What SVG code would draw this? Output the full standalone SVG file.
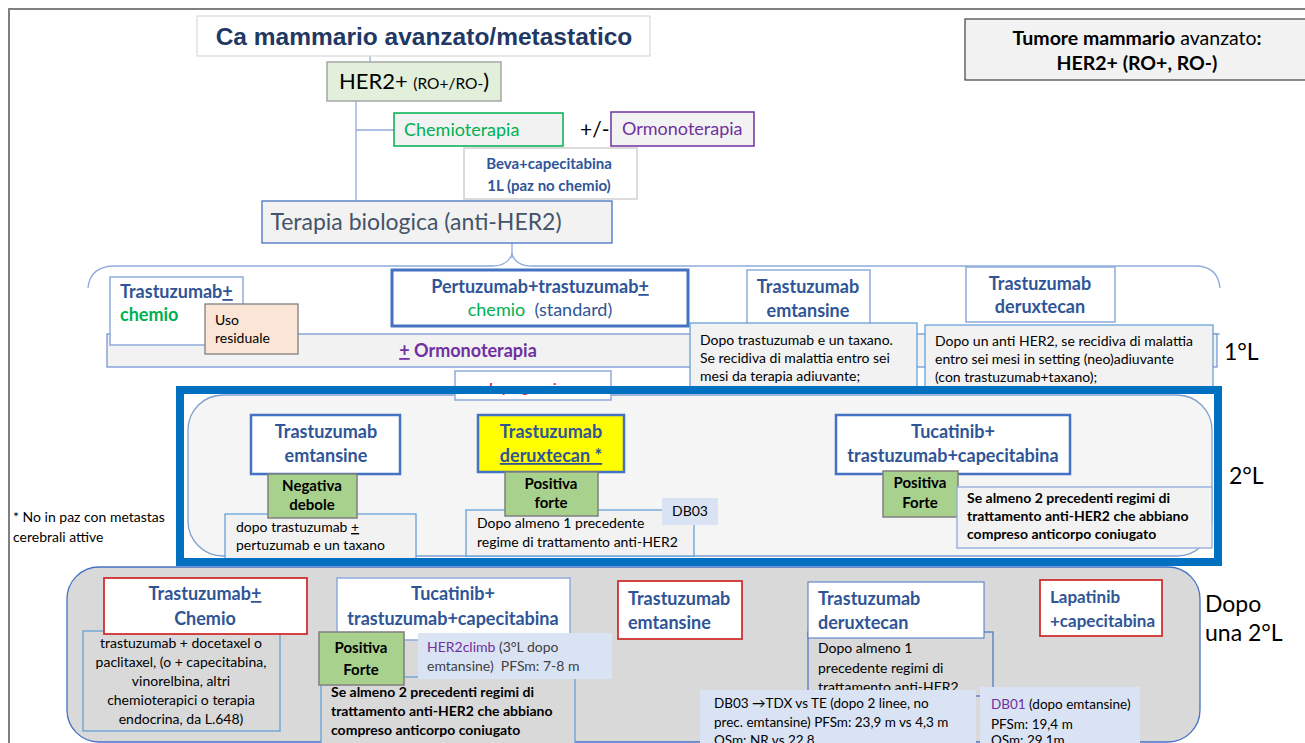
<svg xmlns="http://www.w3.org/2000/svg" width="1305" height="743" viewBox="0 0 1305 743">
<style>
text{font-family:Lato,"Liberation Sans",sans-serif}
.hb{font-weight:bold;fill:#2F5597;font-size:18px}
.t{font-size:14px;fill:#000}
.tb{font-size:14px;fill:#000;font-weight:bold}
.gb{font-size:15px;fill:#000;font-weight:bold}
.green{fill:#A9D18E;stroke:#7F7F7F;stroke-width:1.5}
.wb{fill:#fff;stroke:#4472C4;stroke-width:2.5}
.wl{fill:#fff;stroke:#8FAADC;stroke-width:1.5}
.wr{fill:#fff;stroke:#D03030;stroke-width:1.8}
.note{fill:#F2F2F2;stroke:#5B9BD5;stroke-width:1.2}
.lbl{fill:#DAE3F3}
.u{text-decoration:underline}
.lab{font-size:23px;fill:#000}
.conn{stroke:#8FAADC;stroke-width:1.3;fill:none}
.sm{font-size:13.5px;fill:#000}
</style>
<rect width="1305" height="743" fill="#fff"/>
<g id="frame">
<path d="M8 9H1305M9 9V743" stroke="#808080" stroke-width="2" fill="none"/>
</g>
<g id="connectors">
<path class="conn" d="M370 56V62M356 101V200M356 130H394M512 243V258"/>
<path class="conn" d="M88 288Q90 266 115 266H492Q508 266 512 254Q516 266 532 266H1195Q1218 266 1220 288"/>
<path class="conn" d="M1212 334H1220"/>
</g>
<g id="title"><rect x="197" y="16" width="453" height="40" fill="#fff" stroke="#D9D9D9" stroke-width="1.2"/>
<text x="424" y="45" text-anchor="middle" style="font-family:'Liberation Sans',Arial,sans-serif;font-weight:bold;font-size:24.5px;fill:#1F3864">Ca mammario avanzato/metastatico</text></g>
<g id="legend"><rect x="965" y="19" width="345" height="61" fill="#F2F2F2" stroke="#404040" stroke-width="1.2"/>
<text x="1137" y="45" text-anchor="middle" style="font-size:19.5px;fill:#000"><tspan font-weight="bold">Tumore mammario</tspan> avanzato<tspan font-weight="bold">:</tspan></text>
<text x="1137" y="70" text-anchor="middle" style="font-size:19.5px;fill:#000;font-weight:bold">HER2+ (RO+, RO-)</text></g>
<g id="her2"><rect x="327" y="62" width="174" height="39" fill="#E2EFDA" stroke="#A5A5A5" stroke-width="1.5"/>
<text x="414" y="89" text-anchor="middle" style="fill:#000"><tspan font-size="22">HER2+ </tspan><tspan font-size="15.5">(RO+/RO-</tspan><tspan font-size="22">)</tspan></text></g>
<g id="chemio"><rect x="394" y="113" width="169" height="33" fill="#F2F2F2" stroke="#00B050" stroke-width="1.5"/>
<text x="404" y="136" style="font-size:18px;fill:#00B050">Chemioterapia</text></g>
<text x="580" y="137" style="font-size:21px;fill:#000">+/-</text>
<g id="ormono"><rect x="611" y="112" width="143" height="34" fill="#F2F2F2" stroke="#7030A0" stroke-width="1.5"/>
<text x="622" y="135" style="font-size:18px;fill:#7030A0">Ormonoterapia</text></g>
<g id="beva"><rect x="464" y="148" width="173" height="51" fill="#fff" stroke="#D0D0D0" stroke-width="1.5"/>
<text x="549" y="169" text-anchor="middle" style="font-size:15px;font-weight:bold;fill:#2F5597">Beva+capecitabina</text>
<text x="549" y="191" text-anchor="middle" style="font-size:15px;font-weight:bold;fill:#2F5597">1L (paz no chemio)</text></g>
<g id="terapia"><rect x="262" y="201" width="350" height="42" fill="#F2F2F2" stroke="#4472C4" stroke-width="1.3"/>
<text x="416" y="230" text-anchor="middle" style="font-size:23px;fill:#44546A">Terapia biologica (anti-HER2)</text></g>
<!-- 1L -->
<g id="ormband"><rect x="107" y="334" width="1110" height="33" fill="#F2F2F2" stroke="#6E8FD0" stroke-width="1.2"/>
<text x="468" y="357" text-anchor="middle" style="font-size:18px;font-weight:bold;fill:#7030A0"><tspan class="u">+</tspan> Ormonoterapia</text></g>
<g id="trastchemio1"><rect x="110" y="277" width="133" height="68" class="wl"/>
<text x="120" y="298" class="hb">Trastuzumab<tspan class="u">+</tspan></text>
<text x="120" y="321" class="hb" style="fill:#00B050">chemio</text></g>
<g id="uso"><rect x="205" y="304" width="93" height="50" fill="#FBE5D6" stroke="#7F7F7F" stroke-width="1.3"/>
<text x="215" y="325" class="t">Uso</text><text x="215" y="343" class="t">residuale</text></g>
<g id="pertuzumab"><rect x="392" y="270" width="296" height="56" fill="#fff" stroke="#4472C4" stroke-width="3"/>
<text x="540" y="293" text-anchor="middle" class="hb">Pertuzumab+trastuzumab<tspan class="u">+</tspan></text>
<text x="540" y="316" text-anchor="middle" style="font-size:18px"><tspan fill="#00B050">chemio</tspan><tspan fill="#2F5597" xml:space="preserve">  (standard)</tspan></text></g>
<g id="tdm1-1L"><rect x="747" y="270" width="123" height="58" class="wl"/>
<text x="808" y="293" text-anchor="middle" class="hb">Trastuzumab</text>
<text x="808" y="317" text-anchor="middle" class="hb">emtansine</text></g>
<g id="tdxd-1L"><rect x="966" y="267" width="149" height="55" class="wl"/>
<text x="1040" y="290" text-anchor="middle" class="hb">Trastuzumab</text>
<text x="1040" y="313" text-anchor="middle" class="hb">deruxtecan</text></g>
<g id="note-tdm1-1L"><rect x="690" y="323" width="227" height="70" class="note"/>
<text x="700" y="345" class="t">Dopo trastuzumab e un taxano.</text>
<text x="700" y="363" class="t">Se recidiva di malattia entro sei</text>
<text x="700" y="381" class="t">mesi da terapia adiuvante;</text></g>
<g id="note-tdxd-1L"><rect x="925" y="325" width="288" height="68" class="note"/>
<text x="935" y="346" class="t">Dopo un anti HER2, se recidiva di malattia</text>
<text x="935" y="364" class="t">entro sei mesi in setting (neo)adiuvante</text>
<text x="935" y="382" class="t">(con trastuzumab+taxano);</text></g>
<text x="1224" y="360" class="lab">1°L</text>
<!-- 2L -->
<g id="line2"><rect x="188" y="395" width="1024" height="161" rx="35" fill="#F5F5F5" stroke="#7F9FCF" stroke-width="1.3"/></g>
<g id="progressione"><rect x="455" y="371" width="156" height="29" class="wl"/>
<text x="533" y="393" text-anchor="middle" style="font-size:14px;font-weight:bold;font-style:italic;fill:#E03030">In progressione</text></g>
<text x="13" y="522" class="t">* No in paz con metastas</text>
<text x="13" y="542" class="t">cerebrali attive</text>
<g id="tdm1-2L"><rect x="251" y="415" width="149" height="59" class="wb"/>
<text x="326" y="438" text-anchor="middle" class="hb">Trastuzumab</text>
<text x="326" y="462" text-anchor="middle" class="hb">emtansine</text>
<rect x="225" y="514" width="191" height="46" class="note"/>
<text x="236" y="532" class="t">dopo trastuzumab <tspan class="u">+</tspan></text>
<text x="236" y="550" class="t">pertuzumab e un taxano</text>
<rect x="268" y="474" width="89" height="44" class="green"/>
<text x="312" y="491" text-anchor="middle" class="gb">Negativa</text>
<text x="312" y="510" text-anchor="middle" class="gb">debole</text></g>
<g id="tdxd-2L"><rect x="478" y="415" width="146" height="57" fill="#FFFF00" stroke="#4472C4" stroke-width="2.5"/>
<text x="551" y="438" text-anchor="middle" class="hb">Trastuzumab</text>
<text x="551" y="462" text-anchor="middle" class="hb u">deruxtecan *</text>
<rect x="466" y="510" width="228" height="46" class="note"/>
<text x="477" y="528" class="t">Dopo almeno 1 precedente</text>
<text x="477" y="547" class="t">regime di trattamento anti-HER2</text>
<rect x="662" y="498" width="56" height="27" class="lbl"/>
<text x="690" y="516" text-anchor="middle" class="t">DB03</text>
<rect x="505" y="472" width="93" height="44" class="green"/>
<text x="551" y="489" text-anchor="middle" class="gb">Positiva</text>
<text x="551" y="508" text-anchor="middle" class="gb">forte</text></g>
<g id="tucatinib-2L"><rect x="836" y="415" width="234" height="59" class="wb"/>
<text x="953" y="438" text-anchor="middle" class="hb">Tucatinib+</text>
<text x="953" y="462" text-anchor="middle" class="hb">trastuzumab+capecitabina</text>
<rect x="883" y="471" width="75" height="46" class="green"/>
<text x="920" y="488" text-anchor="middle" class="gb">Positiva</text>
<text x="920" y="508" text-anchor="middle" class="gb">Forte</text>
<rect x="957" y="487" width="255" height="61" fill="#F2F2F2" stroke="#8FAADC" stroke-width="1.3"/>
<text x="967" y="503" class="tb">Se almeno 2 precedenti regimi di</text>
<text x="967" y="521" class="tb">trattamento anti-HER2 che abbiano</text>
<text x="967" y="539" class="tb">compreso anticorpo coniugato</text></g>
<text x="1229" y="484" class="lab">2°L</text>
<!-- after 2L -->
<g id="after2L"><rect x="67" y="567" width="1133" height="175" rx="32" fill="#D9D9D9" stroke="#4472C4" stroke-width="1.3"/></g>
<rect id="frame2L" x="180" y="390" width="1038" height="172" fill="none" stroke="#0070C0" stroke-width="8"/>
<g id="trastchemio-3L">
<rect x="83" y="631" width="197" height="100" fill="none" stroke="#5B9BD5" stroke-width="1.2"/>
<text x="181" y="648" text-anchor="middle" class="t">trastuzumab + docetaxel o</text>
<text x="181" y="667" text-anchor="middle" class="t">paclitaxel, (o + capecitabina,</text>
<text x="181" y="686" text-anchor="middle" class="t">vinorelbina, altri</text>
<text x="181" y="705" text-anchor="middle" class="t">chemioterapici o terapia</text>
<text x="181" y="724" text-anchor="middle" class="t">endocrina, da L.648)</text>
<rect x="104" y="578" width="203" height="56" class="wr"/>
<text x="205" y="600" text-anchor="middle" class="hb">Trastuzumab<tspan class="u">+</tspan></text>
<text x="205" y="625" text-anchor="middle" class="hb">Chemio</text></g>
<g id="tucatinib-3L">
<rect x="321" y="677" width="254" height="70" fill="#D9D9D9" stroke="#5B9BD5" stroke-width="1.2"/>
<text x="331" y="697" class="tb">Se almeno 2 precedenti regimi di</text>
<text x="331" y="716" class="tb">trattamento anti-HER2 che abbiano</text>
<text x="331" y="735" class="tb">compreso anticorpo coniugato</text>
<rect x="337" y="578" width="233" height="62" class="wl"/>
<text x="453" y="600" text-anchor="middle" class="hb">Tucatinib+</text>
<text x="453" y="625" text-anchor="middle" class="hb">trastuzumab+capecitabina</text>
<rect x="418" y="633" width="194" height="46" class="lbl"/>
<text x="427" y="652" class="t" style="fill:#404040"><tspan fill="#7030A0">HER2climb</tspan> (3°L dopo</text>
<text x="427" y="671" class="t" style="fill:#404040" xml:space="preserve">emtansine)  PFSm: 7-8 m</text>
<rect x="319" y="632" width="85" height="53" class="green"/>
<text x="361" y="653" text-anchor="middle" class="gb">Positiva</text>
<text x="361" y="675" text-anchor="middle" class="gb">Forte</text></g>
<g id="tdm1-3L"><rect x="618" y="581" width="124" height="58" class="wr"/>
<text x="628" y="605" class="hb">Trastuzumab</text>
<text x="628" y="629" class="hb">emtansine</text></g>
<g id="tdxd-3L">
<rect x="808" y="632" width="185" height="64" fill="none" stroke="#4472C4" stroke-width="1.2"/>
<text x="818" y="653" class="t">Dopo almeno 1</text>
<text x="818" y="673" class="t">precedente regimi di</text>
<text x="818" y="692" class="t">trattamento anti-HER2</text>
<rect x="808" y="582" width="176" height="56" fill="#fff" stroke="#4472C4" stroke-width="1"/>
<text x="818" y="605" class="hb">Trastuzumab</text>
<text x="818" y="629" class="hb">deruxtecan</text>
<rect x="700" y="690" width="276" height="60" class="lbl"/>
<text x="714" y="708" class="sm">DB03 →TDX vs TE (dopo 2 linee, no</text>
<text x="714" y="727" class="sm">prec. emtansine) PFSm: 23,9 m vs 4,3 m</text>
<text x="714" y="745" class="sm">OSm: NR vs 22.8</text>
<rect x="980" y="687" width="160" height="60" class="lbl"/>
<text x="991" y="709" class="sm"><tspan fill="#7030A0">DB01</tspan> (dopo emtansine)</text>
<text x="991" y="729" class="sm">PFSm: 19,4 m</text>
<text x="991" y="745" class="sm">OSm: 29,1m</text></g>
<g id="lapatinib"><rect x="1040" y="580" width="122" height="56" class="wr"/>
<text x="1050" y="603" class="hb" style="font-size:17px">Lapatinib</text>
<text x="1050" y="627" class="hb" style="font-size:17px">+capecitabina</text></g>
<text x="1205" y="612" class="lab">Dopo</text>
<text x="1205" y="641" class="lab">una 2°L</text>
</svg>
